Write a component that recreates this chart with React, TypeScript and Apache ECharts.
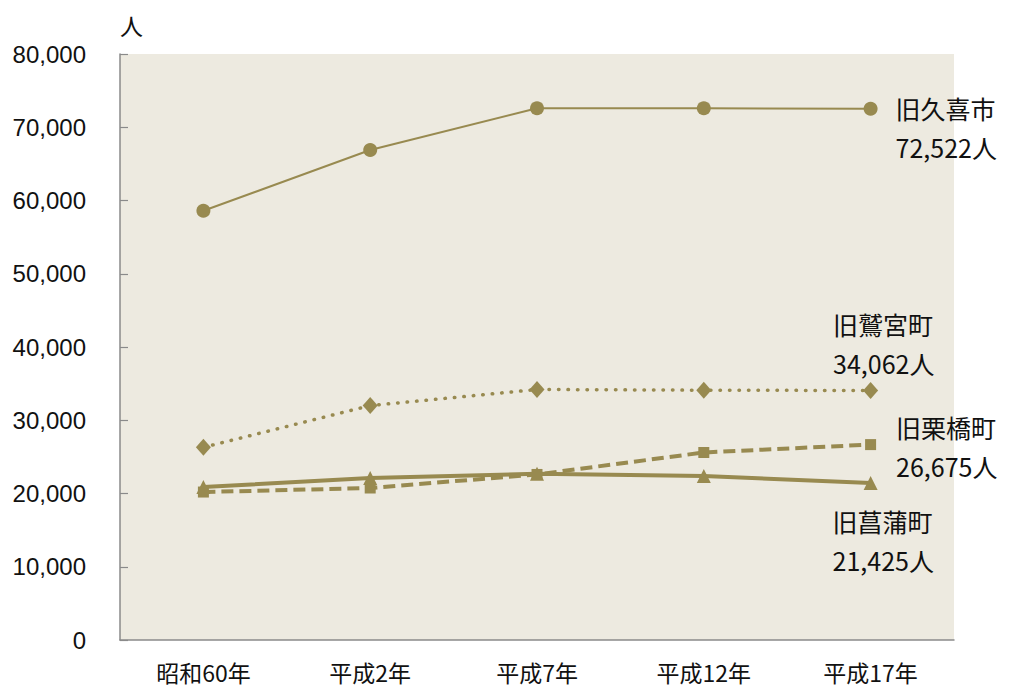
import React, { useEffect, useRef } from "react";
import * as echarts from "echarts";

const categories = ["昭和60年", "平成2年", "平成7年", "平成12年", "平成17年"];
const yTicks = [0, 10000, 20000, 30000, 40000, 50000, 60000, 70000, 80000];
const seriesNames = ["旧久喜市", "旧鷲宮町", "旧栗橋町", "旧菖蒲町"];
const kukiValues = [58600, 66900, 72600, 72600, 72522];
const washimiyaValues = [26300, 32000, 34200, 34100, 34062];
const kurihashiValues = [20200, 20750, 22600, 25600, 26675];
const shobuValues = [20900, 22100, 22700, 22400, 21425];

const COLOR = "#988a50";
const FONT = "'Noto Sans CJK JP', sans-serif";

function fmt(n: number): string {
  return String(n).replace(/\B(?=(\d{3})+(?!\d))/g, ",");
}

function buildData(values: number[], name: string, distance: number, offset: number[]) {
  return values.map((v, i) =>
    i === values.length - 1
      ? {
          value: v,
          label: {
            show: true,
            position: "right",
            distance,
            offset,
            align: "left",
            color: "#111",
            fontFamily: FONT,
            fontSize: 25,
            lineHeight: 39,
            formatter: () => name + "\n" + fmt(v) + "人",
          },
        }
      : v
  );
}

export default function App() {
  const ref = useRef<HTMLDivElement>(null);
  useEffect(() => {
    if (!ref.current) return;
    const chart = echarts.init(ref.current, undefined, { renderer: "svg" });
    chart.setOption({
      animation: false,
      backgroundColor: "#ffffff",
      grid: {
        left: 120,
        right: 57,
        top: 54,
        bottom: 49,
        show: true,
        backgroundColor: "#EDEAE0",
        borderWidth: 0,
      },
      xAxis: {
        type: "category",
        data: categories,
        boundaryGap: true,
        axisLine: { lineStyle: { color: "#8a8a8a", width: 1.5 } },
        axisTick: { inside: true, length: 8, lineStyle: { color: "#8a8a8a", width: 1.2 } },
        axisLabel: { color: "#111", fontFamily: FONT, fontSize: 23, margin: 20 },
      },
      yAxis: {
        type: "value",
        min: yTicks[0],
        max: yTicks[yTicks.length - 1],
        interval: yTicks[1] - yTicks[0],
        name: "人",
        nameLocation: "end",
        nameGap: 18,
        nameTextStyle: { color: "#111", fontFamily: FONT, fontSize: 23, align: "left" },
        splitLine: { show: false },
        axisLine: { show: true, lineStyle: { color: "#8a8a8a", width: 1.5 } },
        axisTick: { show: true, inside: true, length: 8, lineStyle: { color: "#8a8a8a", width: 1.2 } },
        axisLabel: {
          color: "#111",
          fontFamily: "'Liberation Sans', Arial, sans-serif",
          fontSize: 24,
          margin: 34,
          formatter: (v: number) => fmt(v),
        },
      },
      series: [
        {
          name: seriesNames[0],
          type: "line",
          data: buildData(kukiValues, seriesNames[0], 18, [0, 19]),
          symbol: "circle",
          symbolSize: 14,
          itemStyle: { color: COLOR },
          lineStyle: { color: COLOR, width: 2 },
        },
        {
          name: seriesNames[1],
          type: "line",
          data: buildData(washimiyaValues, seriesNames[1], 0, [-45, -47]),
          symbol: "diamond",
          symbolSize: [15, 17],
          itemStyle: { color: COLOR },
          lineStyle: { color: COLOR, width: 3.5, type: [0.5, 9], cap: "round" },
        },
        {
          name: seriesNames[2],
          type: "line",
          data: buildData(kurihashiValues, seriesNames[2], 20, [0, 2]),
          symbol: "rect",
          symbolSize: 11,
          itemStyle: { color: COLOR },
          lineStyle: { color: COLOR, width: 4, type: [12, 6] },
        },
        {
          name: seriesNames[3],
          type: "line",
          data: buildData(shobuValues, seriesNames[3], 0, [-45, 57]),
          symbol: "triangle",
          symbolSize: 14,
          itemStyle: { color: COLOR },
          lineStyle: { color: COLOR, width: 4 },
        },
      ],
    });
    return () => chart.dispose();
  }, []);
  return (
    <div
      ref={ref}
      style={{ position: "fixed", left: 0, top: 0, width: 1011, height: 689 }}
    />
  );
}
